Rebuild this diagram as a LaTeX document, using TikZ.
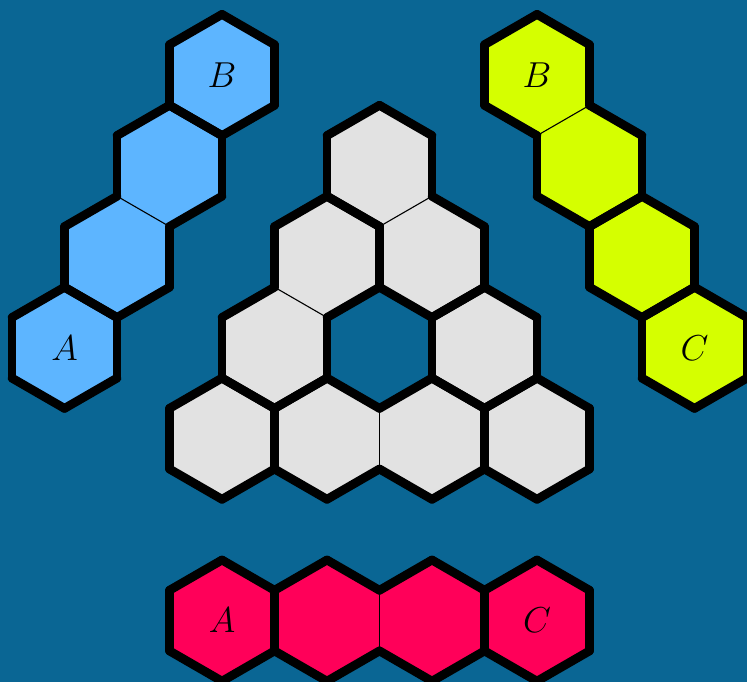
\documentclass[tikz,border=0pt]{standalone}
\definecolor{bg}{RGB}{10,102,148}
\definecolor{hblue}{RGB}{93,181,255}
\definecolor{hgreen}{RGB}{213,255,0}
\definecolor{hred}{RGB}{255,0,89}
\definecolor{hgrey}{RGB}{226,226,226}
\tikzset{
  thickedge/.style={line width=8.8pt, black, line cap=round},
  thinedge/.style={line width=1.1pt, black},
  lbl/.style={font=\fontsize{24.88}{30}\selectfont, inner sep=0pt, scale=1.45}
}
\def\hr{60.62}
\newcommand\hexfill[3]{\fill[#3] (#1,#2) +(30:\hr) -- +(90:\hr) -- +(150:\hr) -- +(210:\hr) -- +(270:\hr) -- +(330:\hr) -- cycle;}
\newcommand\hexedges[4]{\foreach \e in {#3} {\draw[#4] (#1,#2) +({30+60*\e}:\hr) -- +({90+60*\e}:\hr);}}
\begin{document}
\begin{tikzpicture}[x=1pt,y=1pt]
\fill[bg] (0,0) rectangle (747,682);
\useasboundingbox (0,0) rectangle (747,682);
% fills
\foreach \cx/\cy in {222/607,169.5/516.1,117/425.1,64.5/334.2} {\hexfill{\cx}{\cy}{hblue}}
\foreach \cx/\cy in {537/607,589.5/516.1,642/425.1,694.5/334.2} {\hexfill{\cx}{\cy}{hgreen}}
\foreach \cx/\cy in {222/61.4,327/61.4,432/61.4,537/61.4} {\hexfill{\cx}{\cy}{hred}}
\foreach \cx/\cy in {379.5/516.1,327/425.1,432/425.1,274.5/334.2,484.5/334.2,222/243.3,327/243.3,432/243.3,537/243.3} {\hexfill{\cx}{\cy}{hgrey}}
% thin shared edges
\hexedges{169.5}{516.1}{3}{thinedge}
\hexedges{537}{607}{4}{thinedge}
\hexedges{327}{61.4}{5}{thinedge}
\hexedges{379.5}{516.1}{4}{thinedge}
\hexedges{327}{425.1}{3}{thinedge}
\hexedges{327}{243.3}{5}{thinedge}
% thick edges
\hexedges{222}{607}{0,1,2,3,4,5}{thickedge}
\hexedges{169.5}{516.1}{0,1,2,4,5}{thickedge}
\hexedges{117}{425.1}{1,2,3,4,5}{thickedge}
\hexedges{64.5}{334.2}{0,1,2,3,4,5}{thickedge}
\hexedges{537}{607}{0,1,2,3,5}{thickedge}
\hexedges{589.5}{516.1}{0,2,3,4,5}{thickedge}
\hexedges{642}{425.1}{0,1,2,3,4,5}{thickedge}
\hexedges{694.5}{334.2}{0,1,2,3,4,5}{thickedge}
\hexedges{222}{61.4}{0,1,2,3,4,5}{thickedge}
\hexedges{327}{61.4}{0,1,2,3,4}{thickedge}
\hexedges{432}{61.4}{0,1,3,4,5}{thickedge}
\hexedges{537}{61.4}{0,1,2,3,4,5}{thickedge}
\hexedges{379.5}{516.1}{0,1,2,3,5}{thickedge}
\hexedges{327}{425.1}{0,1,2,4,5}{thickedge}
\hexedges{432}{425.1}{0,2,3,4,5}{thickedge}
\hexedges{274.5}{334.2}{1,2,3,4,5}{thickedge}
\hexedges{484.5}{334.2}{0,1,2,3,4,5}{thickedge}
\hexedges{222}{243.3}{0,1,2,3,4,5}{thickedge}
\hexedges{327}{243.3}{0,1,2,3,4}{thickedge}
\hexedges{432}{243.3}{0,1,3,4,5}{thickedge}
\hexedges{537}{243.3}{0,1,2,3,4,5}{thickedge}
% labels
\node[lbl] (bB) at (222,607) {$B$};
\node[lbl] (bA) at (64.5,334.2) {$A$};
\node[lbl] (gB) at (537,607) {$B$};
\node[lbl] (gC) at (694.5,334.2) {$C$};
\node[lbl] (rA) at (222,61.4) {$A$};
\node[lbl] (rC) at (537,61.4) {$C$};
\end{tikzpicture}
\end{document}
